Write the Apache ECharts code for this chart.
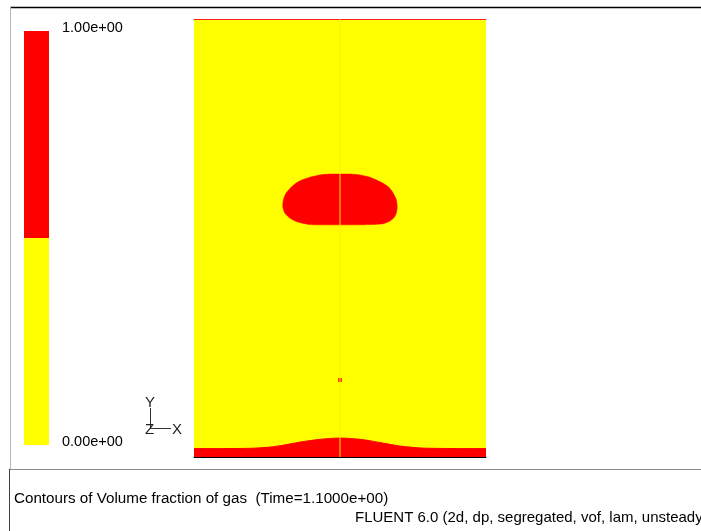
<!DOCTYPE html>
<html>
<head>
<meta charset="utf-8">
<script src="https://cdn.jsdelivr.net/npm/echarts@6/dist/echarts.min.js"></script>
<style>html,body{margin:0;padding:0;background:#fff}#c{width:701px;height:531px}</style>
</head>
<body>
<div id="c"></div>
<script>
// Contour levels (colour bar)
var levelBounds = [0, 0.5, 1];
var levelColors = ['#ffff00', '#ff0000'];
var tickValues = [0, 1];
var tickLabels = ['0.00e+00', '1.00e+00'];

// Liquid layer at the bottom (interface height vs x)
var poolX = [-1.0, -0.8, -0.6, -0.5, -0.41, -0.34, -0.27, -0.2, -0.137, -0.07, 0.0, 0.07, 0.137, 0.2, 0.274, 0.34, 0.411, 0.5, 0.548, 0.6, 0.8, 1.0];
var poolY = [0.058, 0.058, 0.060, 0.066, 0.077, 0.090, 0.103, 0.113, 0.121, 0.127, 0.130, 0.127, 0.121, 0.112, 0.099, 0.087, 0.075, 0.066, 0.062, 0.060, 0.058, 0.058];

// Bubble outline (closed polygon)
var bubbleX = [0.0, 0.07, 0.137, 0.20, 0.251, 0.295, 0.331, 0.362, 0.385, 0.392, 0.386, 0.370, 0.340, 0.297, 0.205, 0.10, 0.0, -0.10, -0.205, -0.297, -0.342, -0.377, -0.392, -0.388, -0.370, -0.331, -0.295, -0.262, -0.20, -0.137, -0.07];
var bubbleY = [1.938, 1.938, 1.932, 1.918, 1.897, 1.875, 1.851, 1.812, 1.765, 1.714, 1.672, 1.640, 1.614, 1.598, 1.592, 1.590, 1.590, 1.590, 1.592, 1.612, 1.635, 1.669, 1.714, 1.760, 1.806, 1.851, 1.880, 1.897, 1.918, 1.932, 1.938];

// Small droplet
var dropX = [0.0];
var dropY = [0.527];

// Symmetry line
var axisLineX = [0, 0];
var axisLineY = [0, 3];

var chart = echarts.init(document.getElementById('c'), null, {renderer: 'canvas'});
var FONT = 'Liberation Sans';

var barSeries = [];
for (var i = 0; i < levelColors.length; i++) {
  barSeries.push({
    type: 'bar', xAxisIndex: 2, yAxisIndex: 1, stack: 'cb',
    barWidth: '100%', silent: true,
    itemStyle: {color: levelColors[i]},
    data: [levelBounds[i + 1] - levelBounds[i]]
  });
}

var option = {
  animation: false,
  backgroundColor: '#ffffff',
  textStyle: {fontFamily: FONT},
  title: [
    {text: 'Contours of Volume fraction of gas  (Time=1.1000e+00)', left: 14, top: 491,
     padding: 0, textStyle: {fontFamily: FONT, fontSize: 15.2, fontWeight: 'normal', color: '#000'}},
    {text: 'FLUENT 6.0 (2d, dp, segregated, vof, lam, unsteady', left: 355, top: 510,
     padding: 0, textStyle: {fontFamily: FONT, fontSize: 15, fontWeight: 'normal', color: '#000'}}
  ],
  grid: [
    {left: 194, top: 19, width: 292, height: 438, show: true, backgroundColor: '#ffff00', borderWidth: 0},
    {left: 24, top: 31, width: 25, height: 414, show: false}
  ],
  xAxis: [
    {type: 'value', gridIndex: 0, min: -1, max: 1, position: 'bottom',
     axisLine: {show: true, onZero: false, lineStyle: {color: '#000', width: 1}},
     axisTick: {show: false}, axisLabel: {show: false}, splitLine: {show: false}},
    {type: 'value', gridIndex: 0, min: -1, max: 1, position: 'top',
     axisLine: {show: true, onZero: false, lineStyle: {color: '#ff2020', width: 1}},
     axisTick: {show: false}, axisLabel: {show: false}, splitLine: {show: false}},
    {type: 'category', gridIndex: 1, data: ['levels'], show: false}
  ],
  yAxis: [
    {type: 'value', gridIndex: 0, min: 0, max: 3, show: false},
    {type: 'value', gridIndex: 1, min: 0, max: 1, interval: 1, position: 'right',
     axisLine: {show: false}, axisTick: {show: false}, splitLine: {show: false},
     axisLabel: {show: true, margin: 13, fontSize: 14.5, fontFamily: FONT, color: '#000',
       verticalAlign: 'bottom', lineHeight: 6,
       formatter: function (v) { var k = tickValues.indexOf(v); return k >= 0 ? tickLabels[k] : ''; }}}
  ],
  series: [
    {type: 'line', xAxisIndex: 0, yAxisIndex: 0, smooth: 0.3, symbol: 'none', silent: true,
     lineStyle: {color: '#ff0000', width: 1},
     areaStyle: {color: '#ff0000', opacity: 1, origin: 'start'},
     data: poolX.map(function (x, i) { return [x, poolY[i]]; }), z: 2},
    {type: 'custom', xAxisIndex: 0, yAxisIndex: 0, silent: true, z: 3,
     data: [[0, 0]],
     renderItem: function (params, api) {
       var pts = bubbleX.map(function (x, i) { return api.coord([x, bubbleY[i]]); });
       return {type: 'polygon', shape: {points: pts, smooth: 0.2}, style: {fill: '#ff0000', stroke: '#ff0000', lineWidth: 0.5}};
     }},
    {type: 'scatter', xAxisIndex: 0, yAxisIndex: 0, symbol: 'rect', symbolSize: [4, 4], silent: true, z: 4,
     itemStyle: {color: '#ff0000'},
     data: dropX.map(function (x, i) { return [x, dropY[i]]; })},
    {type: 'line', xAxisIndex: 0, yAxisIndex: 0, symbol: 'none', silent: true, z: 5,
     lineStyle: {color: '#ffee00', width: 1},
     data: axisLineX.map(function (x, i) { return [x, axisLineY[i]]; })}
  ].concat(barSeries),
  graphic: [
    {type: 'line', shape: {x1: 10, y1: 7.5, x2: 701, y2: 7.5}, style: {stroke: '#000', lineWidth: 1.5}, silent: true},
    {type: 'line', shape: {x1: 10.5, y1: 7, x2: 10.5, y2: 469}, style: {stroke: '#b8b8b8', lineWidth: 1}, silent: true},
    {type: 'line', shape: {x1: 9, y1: 469.5, x2: 701, y2: 469.5}, style: {stroke: '#8c8c8c', lineWidth: 1}, silent: true},
    {type: 'line', shape: {x1: 9.5, y1: 469, x2: 9.5, y2: 531}, style: {stroke: '#404040', lineWidth: 1}, silent: true},
    {type: 'line', shape: {x1: 150.5, y1: 408, x2: 150.5, y2: 428}, style: {stroke: '#333', lineWidth: 1}, silent: true},
    {type: 'line', shape: {x1: 150, y1: 428.5, x2: 171, y2: 428.5}, style: {stroke: '#333', lineWidth: 1}, silent: true},
    {type: 'text', left: 145, top: 395, style: {text: 'Y', font: '15px "Liberation Sans"', fill: '#222'}, silent: true},
    {type: 'text', left: 145, top: 422, style: {text: 'Z', font: '15px "Liberation Sans"', fill: '#222'}, silent: true},
    {type: 'text', left: 172, top: 422, style: {text: 'X', font: '15px "Liberation Sans"', fill: '#222'}, silent: true}
  ]
};
chart.setOption(option);
</script>
</body>
</html>
